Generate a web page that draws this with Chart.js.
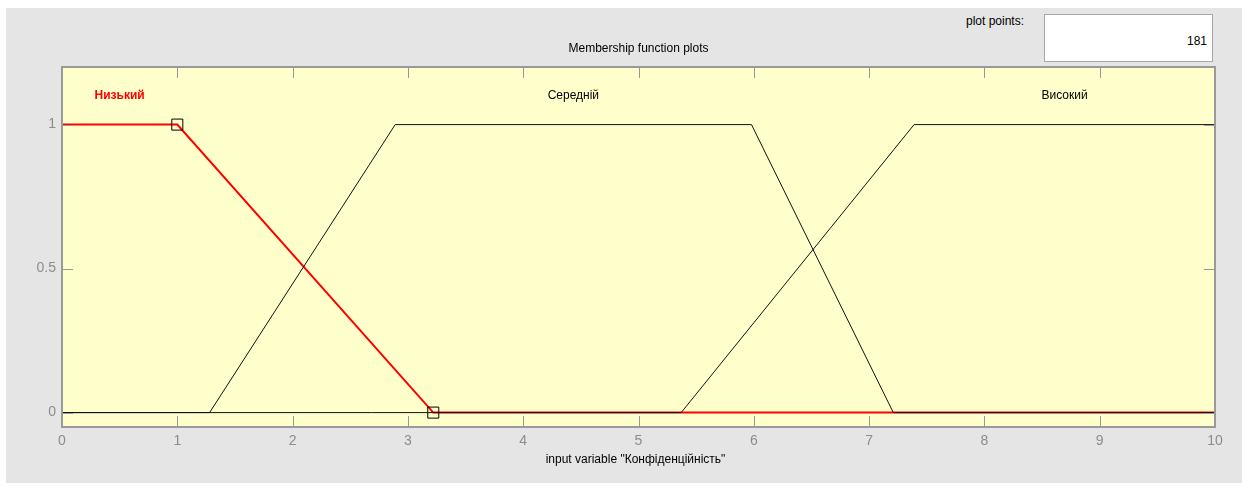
<!DOCTYPE html>
<html>
<head>
<meta charset="utf-8">
<script src="https://cdn.jsdelivr.net/npm/chart.js@4.4.0/dist/chart.umd.min.js"></script>
<style>
  html, body { margin: 0; padding: 0; background: #fff; }
  body { width: 1246px; height: 486px; position: relative; overflow: hidden; font-family: "Liberation Sans", Arial, sans-serif; }
  #panel { position: absolute; left: 6px; top: 8px; width: 1236px; height: 475px; background: #e5e5e5; }
  #pp-label { position: absolute; right: 222px; top: 14px; font-size: 12px; color: #000; }
  #pp-box { position: absolute; left: 1044px; top: 14px; width: 167px; height: 46px; background: #fff; border: 1px solid #a8a8a8; }
  #pp-value { position: absolute; right: 5px; top: 19px; font-size: 12px; color: #000; }
  canvas { position: absolute; left: 0; top: 0; }
</style>
</head>
<body>
<div id="panel"></div>
<div id="pp-label">plot points:</div>
<div id="pp-box"><span id="pp-value">181</span></div>
<canvas id="chart" width="1246" height="486"></canvas>
<script>
// membership functions
const mfNames = ['Низький', 'Середній', 'Високий'];
const lowX = [0, 1, 3.22, 10];
const lowY = [1, 1, 0, 0];
const midX = [0, 1.28, 2.89, 5.98, 7.21, 10];
const midY = [0, 0, 1, 1, 0, 0];
const highX = [0, 5.37, 7.39, 10];
const highY = [0, 0, 1, 1];
const xTicks = [0, 1, 2, 3, 4, 5, 6, 7, 8, 9, 10];
const yTicks = [0, 0.5, 1];
const yTickLabels = ['0', '0.5', '1'];
const plotTitle = 'Membership function plots';
const xTitle = 'input variable "Конфіденційність"';

const FONT = '"Liberation Sans", Arial, sans-serif';

function pts(xs, ys) {
  return xs.map((x, i) => ({x: x, y: ys[i]}));
}

// label goes in the middle of the plateau (where mf == 1)
function plateauCenter(xs, ys) {
  const top = xs.filter((x, i) => ys[i] === 1);
  return (top[0] + top[top.length - 1]) / 2;
}

const matlabAxes = {
  id: 'matlabAxes',
  beforeDatasetsDraw(chart) {
    const {ctx, chartArea: a} = chart;
    ctx.save();
    ctx.fillStyle = '#ffffcc';
    ctx.fillRect(a.left, a.top, a.right - a.left, a.bottom - a.top);
    ctx.restore();
  },
  afterDatasetsDraw(chart) {
    const {ctx, chartArea: a, scales} = chart;
    ctx.save();
    // inward ticks on all four sides
    ctx.strokeStyle = '#999';
    ctx.lineWidth = 1;
    ctx.beginPath();
    xTicks.forEach(v => {
      const px = Math.round(scales.x.getPixelForValue(v)) + 0.5;
      ctx.moveTo(px, a.bottom); ctx.lineTo(px, a.bottom - 11);
      ctx.moveTo(px, a.top); ctx.lineTo(px, a.top + 11);
    });
    yTicks.forEach(v => {
      const py = Math.round(scales.y.getPixelForValue(v)) + 0.5;
      ctx.moveTo(a.left, py); ctx.lineTo(a.left + 11, py);
      ctx.moveTo(a.right, py); ctx.lineTo(a.right - 11, py);
    });
    ctx.stroke();
    // box
    ctx.strokeStyle = '#9a9a9a';
    ctx.lineWidth = 2;
    ctx.strokeRect(a.left, a.top, a.right - a.left, a.bottom - a.top);

    // mf names
    const sets = [[lowX, lowY], [midX, midY], [highX, highY]];
    ctx.textAlign = 'center';
    ctx.textBaseline = 'middle';
    sets.forEach((s, i) => {
      ctx.font = (i === 0 ? 'bold ' : '') + '12px ' + FONT;
      ctx.fillStyle = i === 0 ? '#ff0000' : '#000';
      ctx.fillText(mfNames[i], scales.x.getPixelForValue(plateauCenter(s[0], s[1])), scales.y.getPixelForValue(1.1));
    });

    // titles
    const cx = (a.left + a.right) / 2;
    ctx.fillStyle = '#000';
    ctx.font = '12px ' + FONT;
    ctx.fillText(plotTitle, cx, a.top - 18);
    ctx.fillText(xTitle, cx - 3, a.bottom + 33);
    ctx.restore();
  }
};

new Chart(document.getElementById('chart'), {
  type: 'line',
  data: {
    datasets: [
      {
        label: mfNames[0],
        data: pts(lowX, lowY),
        borderColor: '#ff0000',
        borderWidth: 2,
        pointStyle: 'rect',
        pointRadius: [0, 7.8, 7.8, 0],
        pointBorderColor: '#000',
        pointBorderWidth: 1,
        pointBackgroundColor: 'rgba(0,0,0,0)',
        order: 1
      },
      {
        label: mfNames[1],
        data: pts(midX, midY),
        borderColor: '#111',
        borderWidth: 1,
        pointRadius: 0,
        order: 0
      },
      {
        label: mfNames[2],
        data: pts(highX, highY),
        borderColor: '#111',
        borderWidth: 1,
        pointRadius: 0,
        order: 0
      }
    ]
  },
  options: {
    responsive: false,
    animation: false,
    devicePixelRatio: 1,
    layout: {padding: {left: 0, top: 67, right: 31, bottom: 0}},
    plugins: {
      legend: {display: false},
      tooltip: {enabled: false},
      title: {display: false}
    },
    scales: {
      x: {
        type: 'linear',
        min: 0,
        max: 10,
        afterBuildTicks: s => { s.ticks = xTicks.map(v => ({value: v})); },
        afterFit: s => { s.height = 59; },
        grid: {display: false, drawTicks: false},
        border: {display: false},
        ticks: {
          color: '#8c8c8c',
          font: {family: FONT, size: 14},
          padding: 6,
          maxRotation: 0,
          autoSkip: false
        }
      },
      y: {
        type: 'linear',
        min: -0.05,
        max: 1.2,
        afterBuildTicks: s => { s.ticks = yTicks.map(v => ({value: v})); },
        afterFit: s => { s.width = 62; },
        grid: {display: false, drawTicks: false},
        border: {display: false},
        ticks: {
          color: '#8c8c8c',
          font: {family: FONT, size: 14},
          padding: 6,
          autoSkip: false,
          callback: (v) => yTickLabels[yTicks.indexOf(v)]
        }
      }
    }
  },
  plugins: [matlabAxes]
});
</script>
</body>
</html>
